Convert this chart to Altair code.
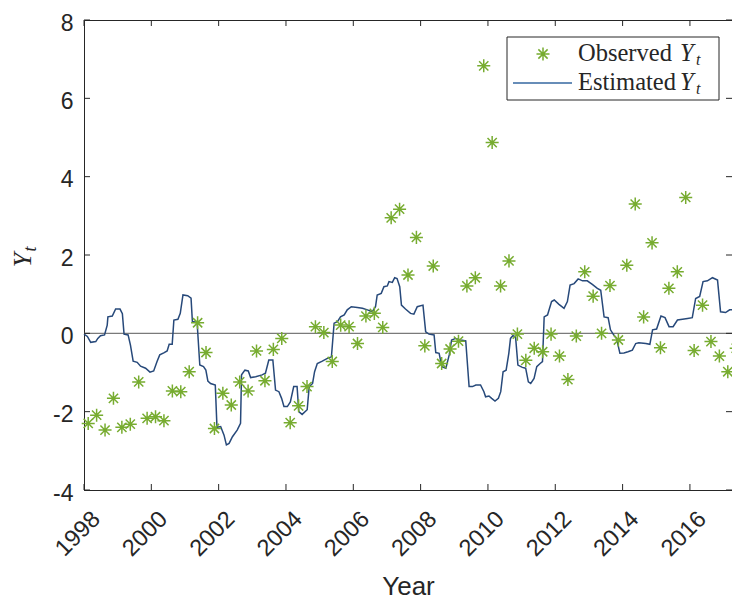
import altair as alt
import pandas as pd

# ---------------- data ----------------
obs_t = [1998.125, 1998.375, 1998.625, 1998.875, 1999.125, 1999.375, 1999.625, 1999.875,
         2000.125, 2000.375, 2000.625, 2000.875, 2001.125, 2001.375, 2001.625, 2001.875,
         2002.125, 2002.375, 2002.625, 2002.875, 2003.125, 2003.375, 2003.625, 2003.875,
         2004.125, 2004.375, 2004.625, 2004.875, 2005.125, 2005.375, 2005.625, 2005.875,
         2006.125, 2006.375, 2006.625, 2006.875, 2007.125, 2007.375, 2007.625, 2007.875,
         2008.125, 2008.375, 2008.625, 2008.875, 2009.125, 2009.375, 2009.625, 2009.875,
         2010.125, 2010.375, 2010.625, 2010.875, 2011.125, 2011.375, 2011.625, 2011.875,
         2012.125, 2012.375, 2012.625, 2012.875, 2013.125, 2013.375, 2013.625, 2013.875,
         2014.125, 2014.375, 2014.625, 2014.875, 2015.125, 2015.375, 2015.625, 2015.875,
         2016.125, 2016.375, 2016.625, 2016.875, 2017.125, 2017.375]
obs_y = [-2.30, -2.09, -2.47, -1.66, -2.40, -2.32, -1.24, -2.17,
         -2.13, -2.23, -1.47, -1.49, -0.98, 0.27, -0.49, -2.43,
         -1.53, -1.83, -1.24, -1.47, -0.45, -1.21, -0.41, -0.13,
         -2.28, -1.85, -1.36, 0.17, 0.02, -0.72, 0.21, 0.17,
         -0.26, 0.44, 0.51, 0.15, 2.95, 3.17, 1.49, 2.45,
         -0.32, 1.72, -0.77, -0.40, -0.20, 1.21, 1.42, 6.83,
         4.87, 1.21, 1.85, -0.02, -0.69, -0.38, -0.47, -0.02,
         -0.58, -1.18, -0.07, 1.57, 0.95, 0.00, 1.22, -0.17,
         1.74, 3.30, 0.42, 2.31, -0.37, 1.15, 1.57, 3.47,
         -0.44, 0.72, -0.21, -0.58, -0.98, -0.38]

est_t = [1998.00, 1998.10, 1998.20, 1998.35, 1998.41, 1998.49, 1998.61, 1998.69, 1998.71, 1998.84,
         1998.94, 1999.07, 1999.14, 1999.19, 1999.31, 1999.38, 1999.46, 1999.58, 1999.68, 1999.83,
         1999.96, 2000.07, 2000.17, 2000.25, 2000.37, 2000.47, 2000.53, 2000.62, 2000.67, 2000.79,
         2000.86, 2000.94, 2001.08, 2001.18, 2001.22, 2001.36, 2001.44, 2001.55, 2001.62, 2001.68,
         2001.76, 2001.90, 2001.95, 2002.06, 2002.16, 2002.23, 2002.31, 2002.41, 2002.55, 2002.65,
         2002.68, 2002.78, 2002.88, 2002.95, 2003.10, 2003.29, 2003.39, 2003.49, 2003.61, 2003.69,
         2003.79, 2003.87, 2003.94, 2004.04, 2004.13, 2004.23, 2004.33, 2004.38, 2004.48, 2004.63,
         2004.69, 2004.79, 2004.85, 2004.93, 2005.08, 2005.23, 2005.35, 2005.43, 2005.53, 2005.62,
         2005.73, 2005.82, 2005.94, 2006.12, 2006.27, 2006.42, 2006.56, 2006.66, 2006.71, 2006.83,
         2006.91, 2007.01, 2007.06, 2007.16, 2007.23, 2007.30, 2007.38, 2007.43, 2007.55, 2007.70,
         2007.80, 2007.90, 2008.07, 2008.15, 2008.25, 2008.40, 2008.45, 2008.55, 2008.63, 2008.75,
         2008.85, 2008.92, 2009.04, 2009.19, 2009.34, 2009.44, 2009.54, 2009.64, 2009.78, 2009.88,
         2009.93, 2010.03, 2010.11, 2010.21, 2010.31, 2010.38, 2010.45, 2010.54, 2010.62, 2010.67,
         2010.74, 2010.82, 2010.89, 2011.02, 2011.12, 2011.20, 2011.27, 2011.37, 2011.45, 2011.55,
         2011.62, 2011.67, 2011.77, 2011.89, 2011.97, 2012.11, 2012.26, 2012.36, 2012.44, 2012.56,
         2012.68, 2012.81, 2012.95, 2013.10, 2013.25, 2013.35, 2013.45, 2013.57, 2013.64, 2013.72,
         2013.82, 2013.92, 2014.04, 2014.16, 2014.29, 2014.39, 2014.48, 2014.69, 2014.81, 2014.89,
         2015.01, 2015.14, 2015.26, 2015.38, 2015.50, 2015.63, 2015.78, 2015.93, 2016.07, 2016.17,
         2016.29, 2016.39, 2016.52, 2016.67, 2016.82, 2016.91, 2017.06, 2017.18, 2017.25]
est_y = [-0.02, -0.08, -0.23, -0.21, -0.13, -0.06, -0.04, 0.21, 0.42, 0.44,
         0.62, 0.62, 0.50, -0.02, -0.04, -0.30, -0.71, -0.74, -0.84, -0.89,
         -0.99, -0.96, -0.72, -0.55, -0.50, -0.45, -0.28, -0.28, 0.34, 0.36,
         0.51, 0.98, 0.96, 0.90, 0.30, 0.28, -0.81, -0.85, -0.94, -1.22,
         -1.28, -1.32, -2.40, -2.38, -2.60, -2.85, -2.81, -2.64, -2.47, -2.30,
         -1.06, -0.94, -0.96, -1.13, -1.11, -1.06, -1.02, -0.68, -0.68, -1.45,
         -1.49, -1.66, -1.87, -1.87, -1.75, -1.36, -1.36, -2.00, -2.07, -1.95,
         -1.36, -1.28, -0.98, -0.77, -0.71, -0.64, -0.60, 0.26, 0.30, 0.42,
         0.47, 0.60, 0.68, 0.66, 0.64, 0.60, 0.55, 0.68, 0.98, 1.02,
         1.19, 1.21, 1.32, 1.30, 1.42, 1.40, 1.19, 0.72, 0.62, 0.51,
         0.49, 0.68, 0.72, 0.04, -0.02, -0.04, -0.49, -0.51, -0.85, -0.89,
         -0.55, -0.17, -0.13, -0.17, -0.19, -1.36, -1.36, -1.32, -1.32, -1.49,
         -1.62, -1.60, -1.66, -1.73, -1.66, -1.49, -0.98, -0.94, -0.51, -0.13,
         -0.06, -0.09, -0.81, -0.87, -0.89, -1.24, -1.28, -1.15, -0.85, -0.77,
         -0.72, 0.42, 0.47, 0.81, 0.85, 0.74, 0.64, 0.81, 1.23, 1.27,
         1.39, 1.34, 1.34, 1.25, 1.15, 1.10, 0.42, 0.40, 0.09, -0.02,
         -0.13, -0.51, -0.50, -0.47, -0.43, -0.26, -0.24, -0.26, -0.28, 0.09,
         0.11, 0.44, 0.40, 0.17, 0.17, 0.34, 0.36, 0.38, 0.40, 0.89,
         0.94, 1.32, 1.34, 1.42, 1.36, 0.55, 0.53, 0.60, 0.60]

x_ticks = [1998, 2000, 2002, 2004, 2006, 2008, 2010, 2012, 2014, 2016]
y_ticks = [-4, -2, 0, 2, 4, 6, 8]
x_domain = [1998, 2017.25]
y_domain = [-4, 8]

# ---------------- style ----------------
W, H = 648, 470
AX = "#262626"
GREEN = "#77AC30"
BLUE = "#27497a"
SANS = "Liberation Sans"
SERIF = "Liberation Serif"
STAR = "M-1,0L1,0M0,-1L0,1M-0.71,-0.71L0.71,0.71M-0.71,0.71L0.71,-0.71"

xs = alt.Scale(domain=x_domain, nice=False, zero=False)
ys = alt.Scale(domain=y_domain, nice=False, zero=False)

x_axis = alt.Axis(values=x_ticks, labelExpr="'' + datum.value", labelAngle=315,
                  labelAlign="right", labelBaseline="middle", labelOffset=12, labelPadding=25,
                  labelFont=SANS, labelFontSize=23.5, labelColor=AX,
                  domainColor=AX, domainWidth=1, ticks=False, tickSize=0, grid=False,
                  title="Year", titleFont=SANS, titleFontSize=26, titleFontWeight="normal",
                  titleColor=AX, titleY=104, titleBaseline="alphabetic")
y_axis = alt.Axis(values=y_ticks, labelExpr="'' + datum.value", labelPadding=11,
                  labelOffset=3, labelFont=SANS, labelFontSize=23, labelColor=AX,
                  domainColor=AX, domainWidth=1, ticks=False, tickSize=0, grid=False, title=None)

X = alt.X("t:Q", scale=xs, axis=x_axis)
Y = alt.Y("y:Q", scale=ys, axis=y_axis)

obs_df = pd.DataFrame({"t": obs_t, "y": obs_y})
est_df = pd.DataFrame({"t": est_t, "y": est_y})
one = pd.DataFrame({"a": [0]})

zero_line = alt.Chart(pd.DataFrame({"y": [0]})).mark_rule(color="#7a7a7a", strokeWidth=1.4).encode(y=Y)
est_line = alt.Chart(est_df).mark_line(color=BLUE, strokeWidth=1.5).encode(x=X, y=Y)
obs_pts = alt.Chart(obs_df).mark_point(shape=STAR, filled=False, color=GREEN, size=170,
                                       strokeWidth=1.5, opacity=1).encode(x=X, y=Y)

xt = pd.DataFrame({"t": x_ticks})
yt = pd.DataFrame({"y": y_ticks})
tick_b = alt.Chart(xt).mark_rule(color=AX, strokeWidth=1).encode(x=X, y=alt.value(H), y2=alt.value(H - 6))
tick_t = alt.Chart(xt).mark_rule(color=AX, strokeWidth=1).encode(x=X, y=alt.value(0), y2=alt.value(6))
tick_l = alt.Chart(yt).mark_rule(color=AX, strokeWidth=1).encode(y=Y, x=alt.value(0), x2=alt.value(6))
tick_r = alt.Chart(yt).mark_rule(color=AX, strokeWidth=1).encode(y=Y, x=alt.value(W), x2=alt.value(W - 6))

# legend
leg_box = alt.Chart(one).mark_rect(fill="white", stroke=AX, strokeWidth=1).encode(
    x=alt.value(423), x2=alt.value(635), y=alt.value(17), y2=alt.value(80))
leg_star = alt.Chart(one).mark_point(shape=STAR, filled=False, color=GREEN, size=170,
                                     strokeWidth=1.5, opacity=1).encode(x=alt.value(459), y=alt.value(34))
leg_line = alt.Chart(one).mark_rule(color="#3567a0", strokeWidth=1.5).encode(
    x=alt.value(429), x2=alt.value(488), y=alt.value(63))
txt_kw = dict(font=SERIF, color=AX, align="left", baseline="alphabetic")
leg_t1 = alt.Chart(one).mark_text(text="Observed", fontSize=24.5, **txt_kw).encode(x=alt.value(494), y=alt.value(41))
leg_y1 = alt.Chart(one).mark_text(text="Y", fontSize=24.5, fontStyle="italic", **txt_kw).encode(x=alt.value(596), y=alt.value(41))
leg_s1 = alt.Chart(one).mark_text(text="t", fontSize=16, fontStyle="italic", **txt_kw).encode(x=alt.value(612), y=alt.value(45))
leg_t2 = alt.Chart(one).mark_text(text="Estimated", fontSize=24.5, **txt_kw).encode(x=alt.value(494), y=alt.value(70))
leg_y2 = alt.Chart(one).mark_text(text="Y", fontSize=24.5, fontStyle="italic", **txt_kw).encode(x=alt.value(596), y=alt.value(70))
leg_s2 = alt.Chart(one).mark_text(text="t", fontSize=16, fontStyle="italic", **txt_kw).encode(x=alt.value(612), y=alt.value(74))

# y-axis title  Y_t (rotated)
ylab_Y = alt.Chart(one).mark_text(text="Y", font=SERIF, fontStyle="italic", fontSize=26, color=AX,
                                  angle=270, align="center", baseline="middle").encode(
    x=alt.value(-61), y=alt.value(240))
ylab_t = alt.Chart(one).mark_text(text="t", font=SERIF, fontStyle="italic", fontSize=18, color=AX,
                                  angle=270, align="center", baseline="middle").encode(
    x=alt.value(-53), y=alt.value(229))

chart = alt.layer(
    zero_line, est_line, obs_pts, tick_b, tick_t, tick_l, tick_r,
    leg_box, leg_star, leg_line, leg_t1, leg_y1, leg_s1, leg_t2, leg_y2, leg_s2,
    ylab_Y, ylab_t,
).properties(
    width=W, height=H,
    autosize=alt.AutoSizeParams(type="none"),
    padding={"left": 84, "top": 20, "right": 0, "bottom": 111},
    background="white",
).configure_view(stroke=AX, strokeWidth=1)

chart.save("out.html", embed_options={"renderer": "svg", "actions": False})
